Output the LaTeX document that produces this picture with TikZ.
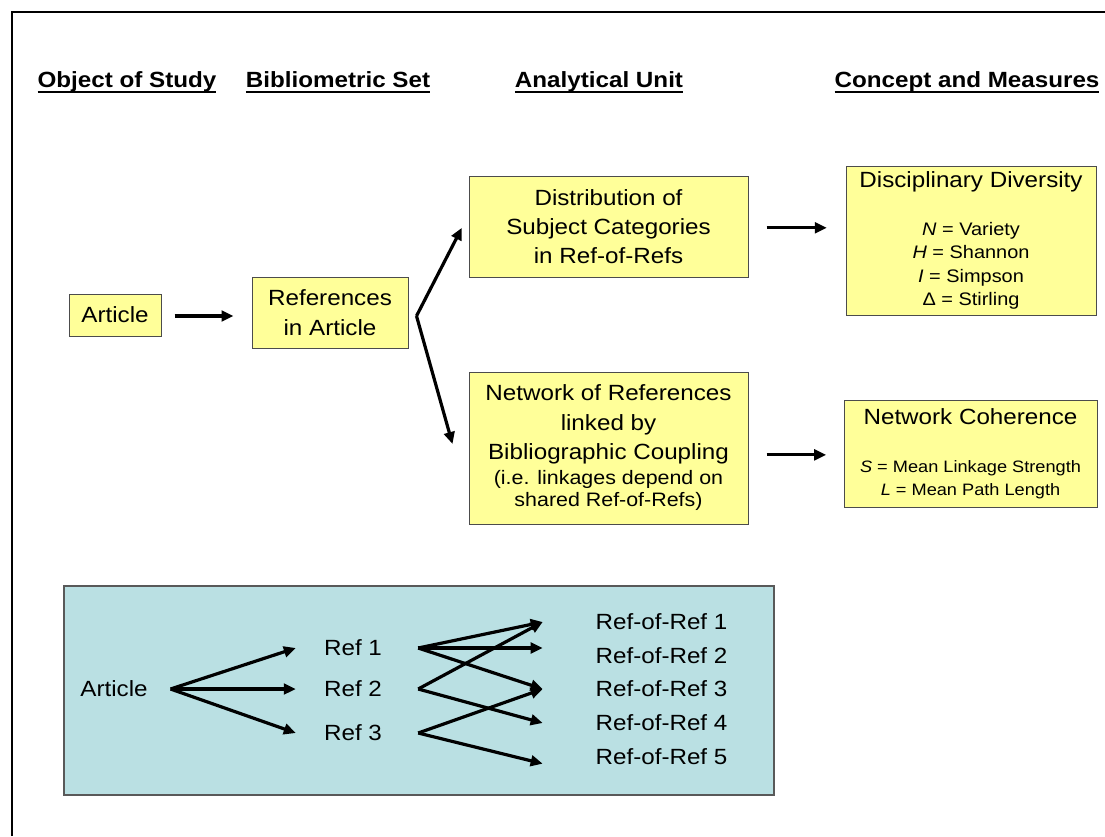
\documentclass[tikz,border=0pt]{standalone}
\usepackage{fontspec}
\setmainfont{Liberation Sans}[FakeStretch=1.1]
\usepackage{tikz}
\usetikzlibrary{arrows.meta}

\newcommand\bigtxt{\fontsize{16.5}{22}\selectfont}
\newcommand\midtxt{\fontsize{14.6}{16.5}\selectfont}
\newcommand\smltxt{\fontsize{13.6}{17.5}\selectfont}
\newcommand\tnytxt{\fontsize{12.4}{17.25}\selectfont}
\newcommand\headul[1]{\setbox0=\hbox{#1}\rlap{\copy0}\rule[-4.6pt]{\wd0}{1.4pt}}
\definecolor{boxyellow}{HTML}{FFFF99}
\definecolor{panelblue}{HTML}{BAE0E3}

\begin{document}
\begin{tikzpicture}[x=0.75pt, y=-0.75pt, font=\bigtxt]
    \tikzset{
        box/.style      =   { rectangle
                            , draw=black!70
                            , fill=boxyellow
                            , align=center
                            , inner sep=0pt
                            , line width=0.75pt
        }
        , txt/.style    =   { inner sep=0pt
        }
        , head/.style   =   { inner sep=0pt
                            , anchor=base
                            , font=\bigtxt\bfseries
        }
        , arrow/.style  =   { line width=2.4pt
                            , -{Triangle[length=9pt,width=8pt]}
        }
    }
    \useasboundingbox (0,0) rectangle (1105,836);
    \draw[line width=1.5pt] (12,836) -- (12,12) -- (1105,12);

    % column headings
    \node(h1)[head] at (127,87) {\headul{Object of Study}};
    \node(h2)[head] at (338,87) {\headul{Bibliometric Set}};
    \node(h3)[head] at (599,87) {\headul{Analytical Unit}};
    \node(h4)[head] at (967,87) {\headul{Concept and Measures}};

    % upper flow
    \node(art)[box, minimum width=69pt, minimum height=31.5pt] at (115,315) {Article};
    \node(refs)[box, minimum width=117pt, minimum height=53.25pt] at (330,312.5)
        {References\\ in Article};
    \node(dist)[box, minimum width=209.25pt, minimum height=75.75pt] at (608.5,226.5)
        {Distribution of\\ Subject Categories\\ in Ref-of-Refs};
    \node(net)[box, minimum width=209.25pt, minimum height=114pt] at (608.5,448)
        {Network of References\\ linked by\\ Bibliographic Coupling\\[-3pt]
         {\midtxt (i.e. linkages depend on}\\[-5.5pt] {\midtxt shared Ref-of-Refs)}};
    \node(div)[box, font=\smltxt, minimum width=187.5pt, minimum height=111.75pt] at (971,240.5)
        {{\bigtxt Disciplinary Diversity}\\[18.5pt]
         \textit{N} = Variety\\ \textit{H} = Shannon\\ \textit{I} = Simpson\\ Δ = Stirling};
    \node(coh)[box, font=\tnytxt, minimum width=189.75pt, minimum height=80.25pt] at (970.5,453.5)
        {{\bigtxt Network Coherence}\\[18.75pt]
         \textit{S} = Mean Linkage Strength\\ \textit{L} = Mean Path Length};

    \draw[arrow] ([xshift=9.75pt,yshift=-0.75pt]art.east) -- ([xshift=-13.5pt,yshift=-0.75pt]art.east -| refs.west);
    \draw[arrow] ([xshift=6pt,yshift=-2.6pt]refs.east) -- ([xshift=-5pt,yshift=-1pt]dist.west);
    \draw[arrow] ([xshift=6pt,yshift=-2.6pt]refs.east) -- ([xshift=-12pt,yshift=3pt]net.west);
    \draw[arrow] ([xshift=13.5pt,yshift=-1pt]dist.east) -- ([xshift=-14pt,yshift=-1pt]dist.east -| div.west);
    \draw[arrow] ([xshift=13.5pt,yshift=-1pt]coh.west -| net.east) -- ([xshift=-13pt,yshift=-1pt]coh.west);

    % example panel
    \node(panel)[rectangle, draw=black!65, fill=panelblue, line width=1pt,
                 minimum width=532.5pt, minimum height=156.75pt] at (419,690.5) {};
    \node(paper)[txt] at (114,689) {Article};
    \node(r1)[txt] at (353,648) {Ref 1};
    \node(r2)[txt] at (353,689) {Ref 2};
    \node(r3)[txt] at (353,733) {Ref 3};
    \foreach \i/\y in {1/622,2/656,3/689,4/723,5/757}
        \node(rr\i)[txt] at (661.5,\y) {Ref-of-Ref \i};

    \draw[arrow] ([xshift=17pt]paper.east) -- ([xshift=-21pt]r1.west);
    \draw[arrow] ([xshift=17pt]paper.east) -- ([xshift=-21pt]r2.west);
    \draw[arrow] ([xshift=17pt]paper.east) -- ([xshift=-21pt]r3.west);
    \draw[arrow] ([xshift=27pt]r1.east) -- ([xshift=-39.5pt]rr1.west);
    \draw[arrow] ([xshift=27pt]r1.east) -- ([xshift=-39.5pt,yshift=6pt]rr2.west);
    \draw[arrow] ([xshift=27pt]r1.east) -- ([xshift=-39.5pt]rr3.west);
    \draw[arrow] ([xshift=27pt]r2.east) -- ([xshift=-39.5pt]rr1.west);
    \draw[arrow] ([xshift=27pt]r2.east) -- ([xshift=-39.5pt]rr4.west);
    \draw[arrow] ([xshift=27pt]r3.east) -- ([xshift=-39.5pt]rr3.west);
    \draw[arrow] ([xshift=27pt]r3.east) -- ([xshift=-39.5pt,yshift=-5pt]rr5.west);
\end{tikzpicture}
\end{document}
